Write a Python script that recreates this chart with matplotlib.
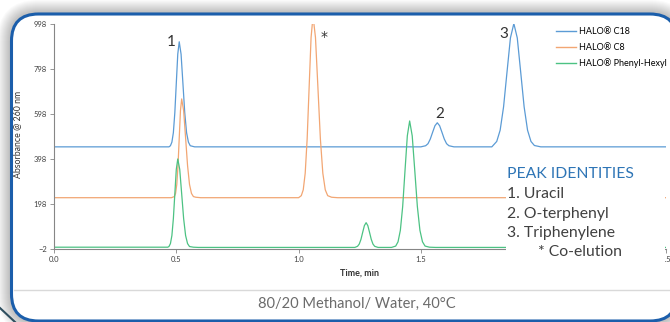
import matplotlib
matplotlib.use("Agg")
import matplotlib.pyplot as plt
from matplotlib.patches import FancyBboxPatch, Rectangle
from matplotlib.transforms import IdentityTransform
from matplotlib.lines import Line2D

plt.rcParams['font.family'] = ['Lato', 'DejaVu Sans']

# ---- data (time in min, absorbance) ----
c18_time = [0.0, 0.470, 0.476, 0.482, 0.488, 0.494, 0.500, 0.506, 0.512, 0.5195, 0.527,
            0.5345, 0.542, 0.5495, 0.557, 0.575, 1.500, 1.5195, 1.529, 1.5385, 1.548,
            1.5575, 1.567, 1.5765, 1.586, 1.5955, 1.605, 1.6145, 1.635, 1.790, 1.810,
            1.824, 1.838, 1.852, 1.866, 1.880, 1.894, 1.908, 1.922, 1.936, 1.950, 1.964,
            1.990, 2.5]
c18_abs = [452, 452, 457, 473, 515, 604, 735, 864, 919, 864, 735,
           604, 515, 473, 457, 452, 452, 457, 466, 487, 517,
           546, 559, 546, 517, 487, 466, 457, 452, 452, 476,
           526, 630, 784, 936, 1000, 936, 784, 630, 526, 476, 458,
           452, 452]

c8_time = [0.0, 0.480, 0.492, 0.497, 0.502, 0.507, 0.512, 0.517, 0.522, 0.530, 0.538,
           0.546, 0.554, 0.562, 0.570, 0.580, 0.600, 1.000, 1.011, 1.019, 1.027, 1.035,
           1.043, 1.051, 1.059, 1.069, 1.079, 1.089, 1.099, 1.109, 1.119, 1.135, 1.160, 2.5]
c8_abs = [226, 226, 231, 245, 285, 369, 492, 613, 665, 613, 492,
          369, 285, 245, 231, 228, 226, 226, 235, 261, 335, 488,
          715, 938, 1033, 938, 715, 488, 335, 261, 235, 228, 226, 226]

ph_time = [0.0, 0.465, 0.470, 0.476, 0.482, 0.488, 0.494, 0.500, 0.506, 0.514, 0.522,
           0.530, 0.538, 0.546, 0.554, 0.570, 0.590, 1.230, 1.241, 1.248, 1.255, 1.262,
           1.269, 1.276, 1.283, 1.290, 1.297, 1.304, 1.311, 1.325, 1.380, 1.397, 1.4065,
           1.416, 1.4255, 1.435, 1.4445, 1.454, 1.4645, 1.475, 1.4855, 1.496, 1.5065,
           1.517, 1.535, 1.560, 2.5]
ph_abs = [6, 6, 9, 22, 58, 133, 243, 352, 398, 352, 243,
          133, 58, 22, 9, 6, 5, 5, 10, 20, 41, 72,
          102, 115, 102, 72, 41, 20, 10, 5, 5, 11, 30,
          81, 187, 346, 501, 567, 501, 346, 187, 81, 30,
          11, 6, 5, 5]

series_names = ["HALO\u00ae C18", "HALO\u00ae C8", "HALO\u00ae Phenyl-Hexyl"]
series_colors = ["#5B9BD5", "#F2A673", "#4CC283"]
x_ticks = [0.0, 0.5, 1.0, 1.5, 2.0, 2.5]
x_ticklabels = ["0.0", "0.5", "1.0", "1.5", "", "2.5"]  # 2.0 sits under the white box
y_ticks = [-2, 198, 398, 598, 798, 998]
peak_ids = ["PEAK IDENTITIES", "1. Uracil", "2. O-terphenyl", "3. Triphenylene", "* Co-elution"]
footer = "80/20 Methanol/ Water, 40\u00b0C"

W, H = 670, 322
fig = plt.figure(figsize=(W / 100, H / 100), dpi=100)
px = IdentityTransform()

# panel with soft shadow (pixel coords, y measured from top)
x0, x1, ytop, ybot, rad = 11.5, 677, 14, 321, 27
for i in range(14, 0, -1):
    fig.add_artist(FancyBboxPatch((x0 - i, H - ybot - i), x1 - x0 + 2 * i, ybot - ytop + 2 * i,
                                  boxstyle="round,pad=0,rounding_size=%d" % (rad + i),
                                  transform=px, fc="black", ec="none", alpha=0.018, zorder=-10))
fig.add_artist(FancyBboxPatch((x0, H - ybot), x1 - x0, ybot - ytop,
                              boxstyle="round,pad=0,rounding_size=%d" % rad,
                              transform=px, fc="white", ec="#1B5EAB", lw=2.2, zorder=-5))
fig.add_artist(Line2D([0, 15], [H - 308, H - 322], transform=px, color="#2F4F5F", lw=1.5, zorder=-9))
fig.add_artist(Line2D([14, 676], [H - 290, H - 290], transform=px, color="#d9d9d9", lw=1, zorder=-4))
fig.text(357 / W, 1 - 304 / H, footer, ha="center", va="center", fontsize=10.5, color="#6b6b6b")

ax = fig.add_axes([54 / W, 73 / H, 611.5 / W, 225 / H])
ax.patch.set_visible(False)
for t, a, c in zip([c18_time, c8_time, ph_time], [c18_abs, c8_abs, ph_abs], series_colors):
    ax.plot(t, a, color=c, lw=0.9)

ax.set_xlim(0, 2.5)
ax.set_ylim(-2, 998)
ax.set_xticks(x_ticks)
ax.set_xticklabels(x_ticklabels)
ax.set_yticks(y_ticks)
for s in ["top", "right"]:
    ax.spines[s].set_visible(False)
for s in ["left", "bottom"]:
    ax.spines[s].set_color("#868686")
    ax.spines[s].set_linewidth(0.8)
ax.tick_params(labelsize=5.5, colors="#868686", labelcolor="#404040", length=3, width=0.6, pad=2)

fig.text(18 / W, 1 - 134 / H, "Absorbance @ 260 nm", rotation=90, ha="center", va="center",
         fontsize=6.3, color="#333333")
fig.text(359 / W, 1 - 273 / H, "Time, min", ha="center", va="center", fontsize=6.5,
         fontweight="bold", color="#333333")

# peak labels
ax.text(0.481, 919, "1", ha="center", va="center", fontsize=11, color="#333333")
ax.text(1.104, 940, "*", ha="center", va="center", fontsize=10, color="#333333",
        family="DejaVu Sans")
ax.text(1.578, 599, "2", ha="center", va="center", fontsize=11, color="#333333")
ax.text(1.840, 953, "3", ha="center", va="center", fontsize=11, color="#333333")

handles = [Line2D([], [], color=c, lw=1.0) for c in series_colors]
ax.legend(handles, series_names, loc="upper left", bbox_to_anchor=(556 / W, 1 - 27 / H),
          bbox_transform=fig.transFigure, frameon=False, fontsize=6.5, handlelength=2.2,
          handletextpad=0.3, labelspacing=0.75, borderpad=0, borderaxespad=0)

# white box holding the peak identities (covers right end of the traces)
fig.add_artist(Rectangle((506, H - 262), 159, 102, transform=px, fc="white", ec="none", zorder=3))
fig.text(507 / W, 1 - 174 / H, peak_ids[0], ha="left", va="center", fontsize=11.3,
         color="#2E75B6", zorder=4)
for i, y in enumerate([194.3, 213.7, 232.7]):
    fig.text(507 / W, 1 - y / H, peak_ids[i + 1], ha="left", va="center", fontsize=11.3,
             color="#404040", zorder=4)
fig.text(538 / W, 1 - 252 / H, peak_ids[4], ha="left", va="center", fontsize=11.3,
         color="#404040", zorder=4)

fig.savefig("out.png", dpi=100)
